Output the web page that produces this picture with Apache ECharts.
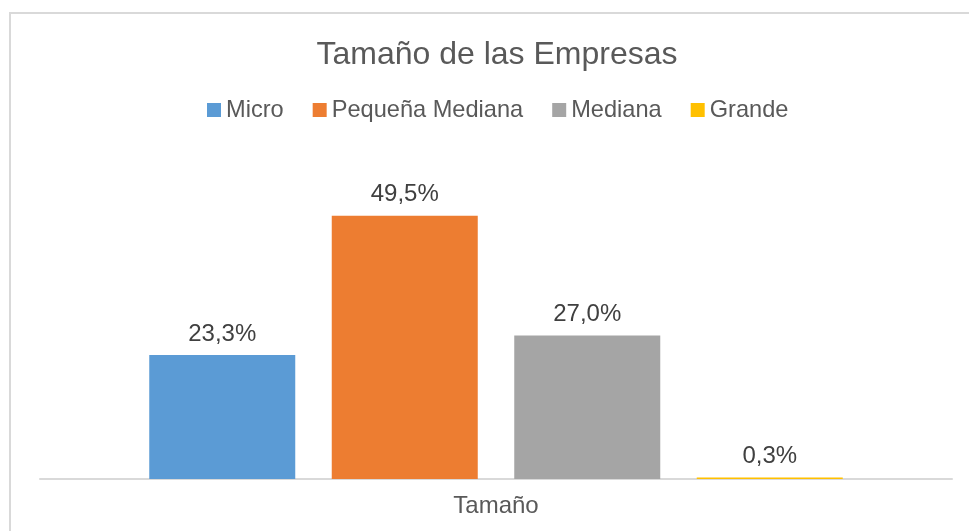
<!DOCTYPE html>
<html>
<head>
<meta charset="utf-8">
<title>Tamaño de las Empresas</title>
<script src="https://cdn.jsdelivr.net/npm/echarts@6/dist/echarts.min.js"></script>
<style>
  html, body { margin: 0; padding: 0; background: #fff; }
  #main { width: 969px; height: 531px; }
</style>
</head>
<body>
<div id="main"></div>
<script>
// datos del gráfico
var categorias = ['Tamaño'];
var series_nombres = ['Micro', 'Pequeña Mediana', 'Mediana', 'Grande'];
var micro = [23.3];
var pequenaMediana = [49.5];
var mediana = [27.0];
var grande = [0.3];
var colores = ['#5B9BD5', '#ED7D31', '#A5A5A5', '#FFC000'];

var valores = [micro, pequenaMediana, mediana, grande];
var fuente = "'Liberation Sans', Arial, sans-serif";

var myChart = echarts.init(document.getElementById('main'));

var series = series_nombres.map(function (nombre, i) {
    return {
        name: nombre,
        type: 'bar',
        data: valores[i],
        barWidth: 146,
        barGap: '25%',
        itemStyle: { color: colores[i] },
        label: {
            show: true,
            position: 'top',
            distance: 9,
            fontSize: 24,
            fontFamily: fuente,
            color: '#404040',
            formatter: function (p) {
                return p.value.toFixed(1).replace('.', ',') + '%';
            }
        }
    };
});

var option = {
    backgroundColor: '#fff',
    animation: false,
    title: {
        text: 'Tamaño de las Empresas',
        left: 492,
        textAlign: 'center',
        top: 34,
        textStyle: {
            fontSize: 32,
            fontWeight: 'normal',
            fontFamily: fuente,
            color: '#595959'
        }
    },
    legend: {
        data: series_nombres,
        left: 207,
        top: 98,
        width: 720,
        padding: 0,
        itemWidth: 14,
        itemHeight: 14,
        itemGap: 29,
        icon: 'rect',
        textStyle: {
            fontSize: 23.6,
            fontFamily: fuente,
            color: '#595959'
        }
    },
    // borde del área del gráfico (solo se ven los lados superior e izquierdo)
    graphic: [{
        type: 'polyline',
        shape: { points: [[10, 531], [10, 13], [969, 13]] },
        style: { stroke: '#d9d9d9', lineWidth: 2, fill: null },
        silent: true
    }],
    grid: { left: 40, right: 17, top: 160, bottom: 52 },
    xAxis: {
        type: 'category',
        data: categorias,
        axisLine: { lineStyle: { color: '#d9d9d9', width: 2 } },
        axisTick: { show: false },
        axisLabel: {
            fontSize: 24,
            fontFamily: fuente,
            color: '#595959',
            margin: 15
        }
    },
    yAxis: {
        type: 'value',
        min: 0,
        max: 60,
        show: false
    },
    series: series
};

myChart.setOption(option);
</script>
</body>
</html>
